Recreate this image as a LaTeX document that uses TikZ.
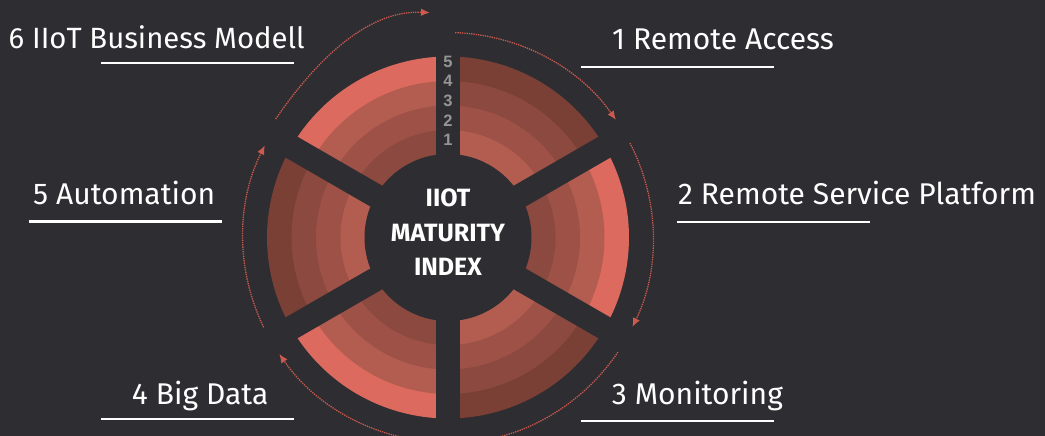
\documentclass[tikz,border=0pt]{standalone}
\usepackage{fontspec}
\setmainfont{Fira Sans}
\newfontfamily\digitfont{Liberation Sans}
\usetikzlibrary{arrows.meta}
\definecolor{bg}{HTML}{2E2D32}
\definecolor{bA}{HTML}{7A3F35}
\definecolor{bB}{HTML}{8B493F}
\definecolor{bC}{HTML}{9D5147}
\definecolor{bD}{HTML}{B35D50}
\definecolor{bE}{HTML}{DD6A5E}
\definecolor{flowred}{HTML}{CC5A4E}
\definecolor{digitgrey}{HTML}{959595}
\tikzset{
  flow/.style={draw=flowred, densely dotted, line width=1.3pt, -{Latex[length=9pt,width=7.5pt]}},
  label/.style={text=white, font=\fontsize{30}{36}\selectfont, inner sep=0pt},
  uline/.style={draw=white, line width=2.5pt},
  centertext/.style={text=white, font=\fontsize{25}{30}\selectfont\bfseries, inner sep=0pt, anchor=base},
  lvl/.style={text=digitgrey, font=\fontsize{16.5}{18}\selectfont\digitfont\bfseries, inner sep=0pt}
}
\begin{document}
\begin{tikzpicture}[x=1pt,y=1pt]
\fill[bg] (-448,-198.5) rectangle (597,237.5);
\useasboundingbox (-448,-198.5) rectangle (597,237.5);
\begin{scope}
\clip (-448,-198.5) rectangle (597,237.5);
% sectors: angle / inner ... outer colours
\foreach \ang/\ca/\cb/\cc/\cd in {60/bD/bC/bB/bA, 0/bB/bC/bD/bE, -60/bD/bC/bB/bA, -120/bB/bC/bD/bE, 180/bD/bC/bB/bA, 120/bB/bC/bD/bE}{
  \pgfmathsetmacro{\sa}{\ang-30}
  \pgfmathsetmacro{\ea}{\ang+30}
  \fill[\cd] (0,0) -- (\sa:181pt) arc[start angle=\sa, end angle=\ea, radius=181pt] -- cycle;
  \fill[\cc] (0,0) -- (\sa:156.5pt) arc[start angle=\sa, end angle=\ea, radius=156.5pt] -- cycle;
  \fill[\cb] (0,0) -- (\sa:132pt) arc[start angle=\sa, end angle=\ea, radius=132pt] -- cycle;
  \fill[\ca] (0,0) -- (\sa:107.5pt) arc[start angle=\sa, end angle=\ea, radius=107.5pt] -- cycle;
}
% gaps
\foreach \g in {90,30,-30,-90,-150,150}{
  \draw[bg, line width=24pt] (0,0) -- (\g:190pt);
}
\fill[bg] (0,0) circle[radius=83.5pt];

% level digits
\foreach \i in {1,...,5}{
  \node[lvl] (lv\i) at (0,{97.5+(\i-1)*19.6}) {\i};
}

% centre text
\node[centertext] (c1) at (0,30.8) {IIOT};
\node[centertext] (c2) at (0,-4.2) {MATURITY};
\node[centertext] (c3) at (0,-38.5) {INDEX};

% flow arcs
\coordinate (aA0) at (-172.3,118.5);
\coordinate (aA1) at (-18,224.8);
\draw[flow] (aA0) .. controls (-135.5,172.1) and (-83,228) .. (aA1);
\coordinate (aB0) at (88:205pt);
\draw[flow] (aB0) arc[start angle=88, end angle=35, radius=205pt];
\coordinate (aC0) at (27.4:205pt);
\draw[flow] (aC0) arc[start angle=27.4, end angle=-25.9, radius=205pt];
\coordinate (aD0) at (-34:205pt);
\draw[flow] (aD0) arc[start angle=-34, end angle=-87, radius=205pt];
\coordinate (aE0) at (-93:205pt);
\draw[flow] (aE0) arc[start angle=-93, end angle=-145.4, radius=205pt];
\coordinate (aF0) at (206:205pt);
\draw[flow] (aF0) arc[start angle=206, end angle=153.3, radius=205pt];
\end{scope}

% labels
\node[label, anchor=base east, font=\fontsize{29.3}{35}\selectfont] (l6) at (-143,188.5) {6 IIoT Business Modell};
\draw[uline] (-347,174.5) coordinate (u6a) -- (-154,174.5) coordinate (u6b);
\node[label, anchor=base west] (l1) at (164,187.5) {1 Remote Access};
\draw[uline] (133,170.5) coordinate (u1a) -- (326,170.5) coordinate (u1b);
\node[label, anchor=base west] (l5) at (-415,33.2) {5 Automation};
\draw[uline] (-419,15.8) coordinate (u5a) -- (-226,15.8) coordinate (u5b);
\node[label, anchor=base west] (l2) at (230,33.2) {2 Remote Service Platform};
\draw[uline] (229,15.5) coordinate (u2a) -- (422,15.5) coordinate (u2b);
\node[label, anchor=base west] (l4) at (-316.3,-167.5) {4 Big Data};
\draw[uline] (-347,-181.5) coordinate (u4a) -- (-154,-181.5) coordinate (u4b);
\node[label, anchor=base west] (l3) at (163.7,-166.8) {3 Monitoring};
\draw[uline] (133,-183.5) coordinate (u3a) -- (326,-183.5) coordinate (u3b);
\end{tikzpicture}
\end{document}
